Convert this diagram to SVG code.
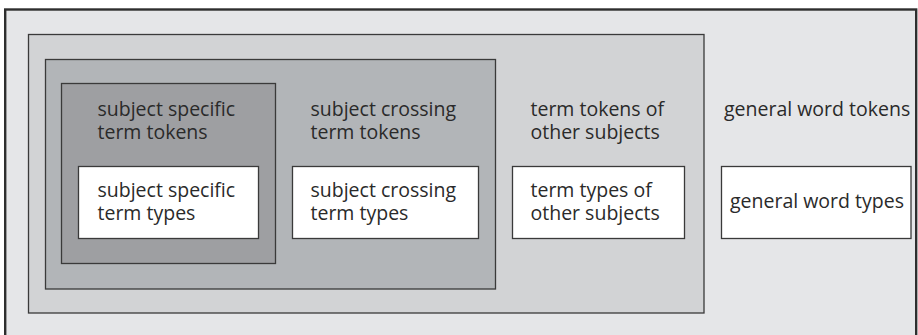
<svg xmlns="http://www.w3.org/2000/svg" width="918" height="335" viewBox="0 0 918 335">
  <style>
    .frame { fill: #e5e6e8; stroke: #2e2e2e; stroke-width: 2.4; }
    .box { stroke: #3a3a3a; stroke-width: 1.3; }
    .lvl1 { fill: #d2d3d5; }
    .lvl2 { fill: #b2b5b8; }
    .lvl3 { fill: #9e9fa2; }
    .types { fill: #ffffff; }
    text { font-family: "Open Sans", "Liberation Sans", sans-serif; font-size: 19.5px; fill: #2a2a2a; }
  </style>

  <!-- outer frame: all word tokens -->
  <g id="general-word-tokens">
    <rect class="frame" x="5.2" y="9.5" width="911" height="340"/>
    <text x="724" y="115.5">general word tokens</text>
  </g>

  <!-- term tokens (all subjects) -->
  <g id="term-tokens-other-subjects">
    <rect class="box lvl1" x="28.5" y="34.5" width="675.5" height="278.5"/>
    <text x="530.5" y="115.5">term tokens of</text>
    <text x="530.5" y="138.5">other subjects</text>
  </g>

  <g id="subject-crossing-term-tokens">
    <rect class="box lvl2" x="45.5" y="59.5" width="450" height="229.5"/>
    <text x="310.5" y="115.5">subject crossing</text>
    <text x="310.5" y="138.5">term tokens</text>
  </g>

  <g id="subject-specific-term-tokens">
    <rect class="box lvl3" x="61.5" y="83.5" width="214" height="180"/>
    <text x="97.5" y="115.5">subject specific</text>
    <text x="97.5" y="138.5">term tokens</text>
  </g>

  <!-- type boxes -->
  <g id="subject-specific-term-types">
    <rect class="box types" x="78.5" y="166.5" width="180" height="72"/>
    <text x="97.5" y="196.5">subject specific</text>
    <text x="97.5" y="219.5">term types</text>
  </g>

  <g id="subject-crossing-term-types">
    <rect class="box types" x="292.5" y="166.5" width="186" height="72"/>
    <text x="310.5" y="196.5">subject crossing</text>
    <text x="310.5" y="219.5">term types</text>
  </g>

  <g id="term-types-other-subjects">
    <rect class="box types" x="512.5" y="166.5" width="172" height="72"/>
    <text x="530.5" y="196.5">term types of</text>
    <text x="530.5" y="219.5">other subjects</text>
  </g>

  <g id="general-word-types">
    <rect class="box types" x="721.5" y="166.5" width="189.5" height="72"/>
    <text x="730" y="208">general word types</text>
  </g>

  <g id="connectors"/>
</svg>
